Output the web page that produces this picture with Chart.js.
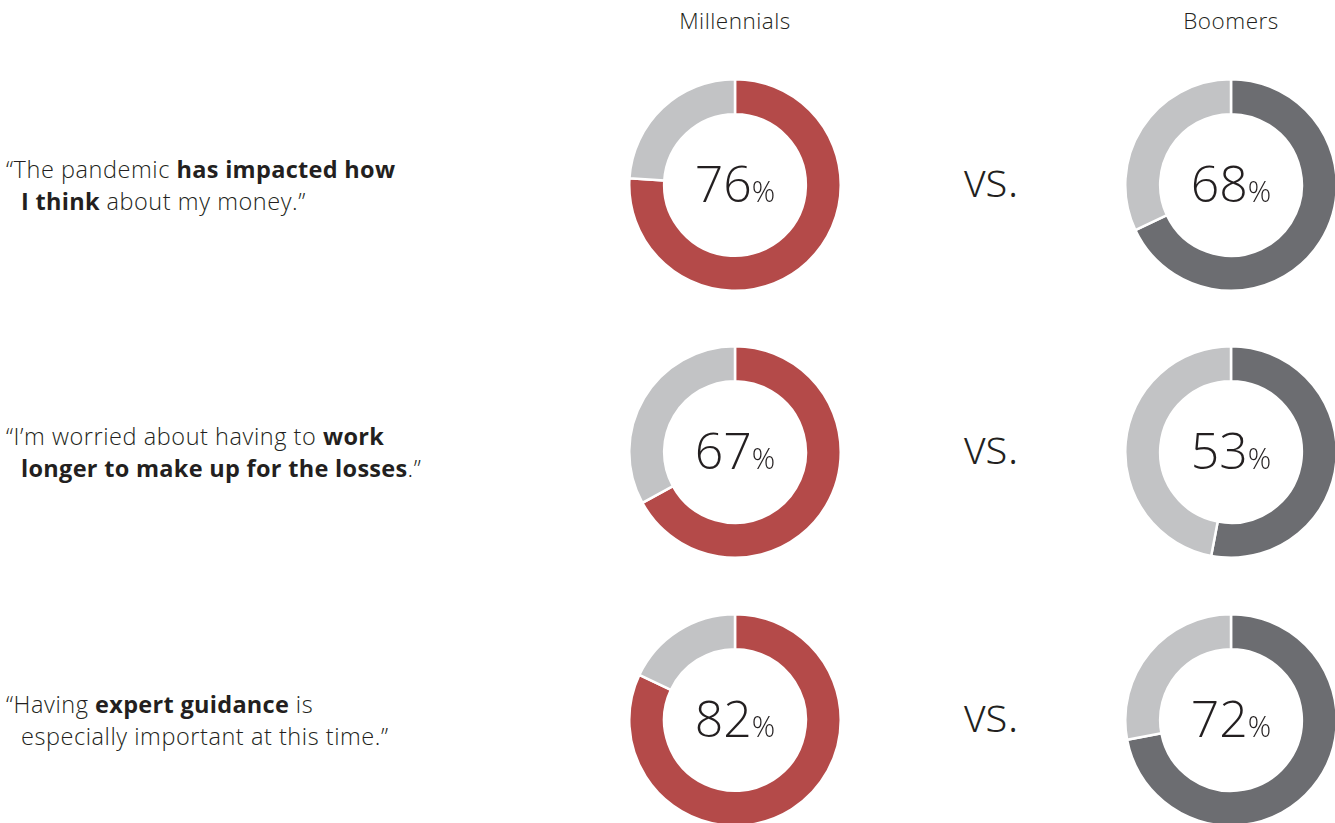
<!DOCTYPE html>
<html>
<head>
<meta charset="utf-8">
<script src="https://cdn.jsdelivr.net/npm/chart.js@4/dist/chart.umd.min.js"></script>
<style>
  html, body { margin: 0; padding: 0; background: #fff; width: 1335px; height: 823px; overflow: hidden; }
  body { position: relative; font-family: "Open Sans", "Noto Sans", sans-serif; color: #231f20; }
  .hdr { position: absolute; top: 5px; font-size: 22.5px; font-weight: 300; width: 240px; text-align: center; letter-spacing: 0.5px; }
  .quote { position: absolute; left: 6px; font-size: 23.5px; line-height: 32px; font-weight: 300; letter-spacing: 0.55px; white-space: nowrap; }
  .quote b { font-weight: 700; letter-spacing: 0.3px; }
  .quote .l2 { padding-left: 15px; display: block; }
  .donut { position: absolute; }
  .center { position: absolute; width: 214px; text-align: center; font-weight: 300; white-space: nowrap; }
  .center .num { font-size: 50px; }
  .center .pct { font-size: 29px; }
  .vs { position: absolute; left: 964px; font-size: 47px; font-weight: 300; }
</style>
</head>
<body>
<script>
// ---- data ----
const columnLabels = ["Millennials", "Boomers"];
const statementLine1 = [
  "\u201cThe pandemic <b>has impacted how</b>",
  "\u201cI\u2019m worried about having to <b>work</b>",
  "\u201cHaving <b>expert guidance</b> is"
];
const statementLine2 = [
  "<b>I think</b> about my money.\u201d",
  "<b>longer to make up for the losses</b>.\u201d",
  "especially important at this time.\u201d"
];
const millennials = [76, 67, 82];
const boomers = [68, 53, 72];
const vsLabel = "vs.";

// ---- layout ----
const colX = [735, 1231];
const rowY = [185, 452, 720];
const R = 107;
const colColors = [["#b44a49", "#c2c3c5"], ["#6c6d71", "#c2c3c5"]];

columnLabels.forEach((t, i) => {
  const d = document.createElement('div');
  d.className = 'hdr';
  d.style.left = (colX[i] - 120) + 'px';
  d.textContent = t;
  document.body.appendChild(d);
});

rowY.forEach((cy, r) => {
  const q = document.createElement('div');
  q.className = 'quote';
  q.style.top = (cy - 32) + 'px';
  q.innerHTML = statementLine1[r] + '<span class="l2">' + statementLine2[r] + '</span>';
  document.body.appendChild(q);

  const vs = document.createElement('div');
  vs.className = 'vs';
  vs.style.top = (cy - 38) + 'px';
  vs.textContent = vsLabel;
  document.body.appendChild(vs);

  [millennials, boomers].forEach((series, c) => {
    const v = series[r];
    const cv = document.createElement('canvas');
    cv.className = 'donut';
    cv.width = 2 * R; cv.height = 2 * R;
    cv.style.width = (2 * R) + 'px'; cv.style.height = (2 * R) + 'px';
    cv.style.left = (colX[c] - R) + 'px';
    cv.style.top = (cy - R) + 'px';
    document.body.appendChild(cv);
    new Chart(cv, {
      type: 'doughnut',
      data: {
        labels: [columnLabels[c], 'Other'],
        datasets: [{
          data: [v, 100 - v],
          backgroundColor: colColors[c],
          borderColor: '#ffffff',
          borderWidth: 2.5,
          hoverOffset: 0
        }]
      },
      options: {
        responsive: false,
        animation: false,
        cutout: '67%',
        layout: { padding: 0 },
        plugins: { legend: { display: false }, tooltip: { enabled: false } },
        events: []
      }
    });

    const t = document.createElement('div');
    t.className = 'center';
    t.style.left = (colX[c] - R) + 'px';
    t.style.top = (cy - 36) + 'px';
    t.innerHTML = '<span class="num">' + v + '</span><span class="pct">%</span>';
    document.body.appendChild(t);
  });
});
</script>
</body>
</html>
